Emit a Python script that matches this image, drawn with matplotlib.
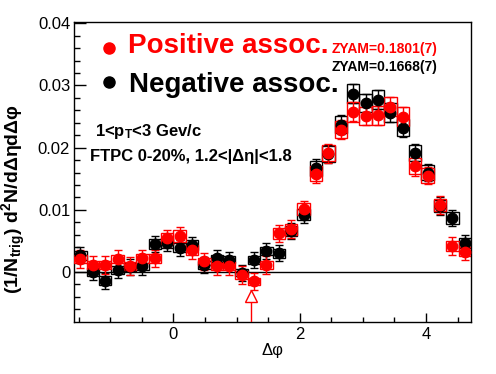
import numpy as np
import matplotlib
matplotlib.use('Agg')
import matplotlib.pyplot as plt
from matplotlib.patches import Rectangle

plt.rcParams['font.family'] = ['Liberation Sans', 'DejaVu Sans']
plt.rcParams['mathtext.fontset'] = 'custom'
plt.rcParams['mathtext.rm'] = 'Liberation Sans'
plt.rcParams['mathtext.bf'] = 'Liberation Sans:bold'
plt.rcParams['mathtext.it'] = 'Liberation Sans:italic'

# 32 bins in dphi from -pi/2 to 3pi/2
nbins = 32
edges = np.linspace(-np.pi / 2, 3 * np.pi / 2, nbins + 1)
dphi = 0.5 * (edges[:-1] + edges[1:])

# negative associated (black)
neg = [0.0027, 0.0000, -0.0014, 0.0003, 0.0008, 0.0009, 0.0045, 0.0047,
       0.0039, 0.0044, 0.0011, 0.0022, 0.0020, -0.0001, 0.0019, 0.0034,
       0.0030, 0.0066, 0.0092, 0.0167, 0.0190, 0.0237, 0.0287, 0.0272,
       0.0277, 0.0256, 0.0232, 0.0192, 0.0160, 0.0106, 0.0087, 0.0046]
neg_stat = [0.0013, 0.0013, 0.0013, 0.0013, 0.0013, 0.0013, 0.0013, 0.0013,
            0.0013, 0.0013, 0.0013, 0.0013, 0.0013, 0.0013, 0.0013, 0.0013,
            0.0013, 0.0013, 0.0013, 0.0014, 0.0014, 0.0015, 0.0015, 0.0015,
            0.0015, 0.0015, 0.0015, 0.0014, 0.0014, 0.0014, 0.0013, 0.0013]
neg_sys = [0.0007, 0.0006, 0.0007, 0.0006, 0.0006, 0.0006, 0.0008, 0.0008,
           0.0007, 0.0008, 0.0006, 0.0006, 0.0006, 0.0006, 0.0006, 0.0007,
           0.0007, 0.0008, 0.0009, 0.0012, 0.0013, 0.0014, 0.0016, 0.0015,
           0.0015, 0.0015, 0.0014, 0.0013, 0.0012, 0.0010, 0.0009, 0.0008]

# positive associated (red)
pos = [0.0021, 0.0011, 0.0011, 0.0021, 0.0010, 0.0022, 0.0022, 0.0054,
       0.0058, 0.0035, 0.0017, 0.0009, 0.0010, -0.0005, -0.0015, 0.0011,
       0.0062, 0.0069, 0.0101, 0.0158, 0.0191, 0.0229, 0.0258, 0.0251,
       0.0252, 0.0266, 0.0250, 0.0170, 0.0155, 0.0108, 0.0042, 0.0033]
pos_stat = [0.0014, 0.0014, 0.0014, 0.0014, 0.0014, 0.0014, 0.0014, 0.0014,
            0.0014, 0.0014, 0.0014, 0.0014, 0.0014, 0.0014, 0.0014, 0.0014,
            0.0014, 0.0014, 0.0014, 0.0015, 0.0015, 0.0015, 0.0015, 0.0015,
            0.0015, 0.0015, 0.0015, 0.0015, 0.0014, 0.0014, 0.0014, 0.0014]
pos_sys = [0.0007, 0.0006, 0.0006, 0.0007, 0.0006, 0.0007, 0.0007, 0.0009,
           0.0009, 0.0008, 0.0006, 0.0006, 0.0006, 0.0006, 0.0006, 0.0006,
           0.0009, 0.0009, 0.0010, 0.0012, 0.0013, 0.0014, 0.0016, 0.0015,
           0.0015, 0.0015, 0.0015, 0.0013, 0.0012, 0.0010, 0.0008, 0.0008]

zyam_pos = '0.1801(7)'
zyam_neg = '0.1668(7)'
arrow_x = 1.225

yticks = [0, 0.01, 0.02, 0.03, 0.04]
ytick_labels = ['0', '0.01', '0.02', '0.03', '0.04']
xticks = [0, 2, 4]
xtick_labels = ['0', '2', '4']

W, H = 496, 374
fig = plt.figure(figsize=(W / 100, H / 100), dpi=100)
ax = fig.add_axes([74.3 / W, 1 - 321.5 / H, (471 - 74.3) / W, (321.5 - 22) / H])


def fx(px):
    return px / W


def fy(py):
    return 1 - py / H


binw = edges[1] - edges[0]


def draw_set(y, stat, sys, col):
    for xc, v, s in zip(dphi, y, sys):
        ax.add_patch(Rectangle((xc - binw / 2, v - s), binw, 2 * s,
                               fill=False, ec=col, lw=1.0, zorder=3))
    ax.errorbar(dphi, y, yerr=stat, fmt='o', color=col, ms=7.5, mec=col,
                elinewidth=1.0, capsize=3, capthick=1.0, zorder=4)


draw_set(neg, neg_stat, neg_sys, 'black')
draw_set(pos, pos_stat, pos_sys, 'red')

ax.axhline(0, color='black', lw=1.0, zorder=2)

# open arrow marking the ZYAM position
ax.plot([arrow_x, arrow_x], [-0.008, -0.0047], color='red', lw=1.0, zorder=5)
ax.plot([arrow_x], [-0.0039], marker='^', ms=8.5, mfc='white', mec='red',
        mew=1.0, zorder=6)

ax.set_xlim(-np.pi / 2, 3 * np.pi / 2)
ax.set_ylim(-0.00795, 0.0402)
ax.set_yticks(yticks)
ax.set_yticklabels(ytick_labels)
ax.set_yticks(np.arange(-0.006, 0.0401, 0.002), minor=True)
ax.set_xticks(xticks)
ax.set_xticklabels(xtick_labels)
ax.set_xticks(np.arange(-1.5, 4.7, 0.5), minor=True)
ax.tick_params(axis='both', which='both', direction='in', top=False, right=False)
ax.tick_params(axis='y', which='major', length=8.5, width=1.0, labelsize=12, pad=3)
ax.tick_params(axis='y', which='minor', length=4.5, width=1.0)
ax.tick_params(axis='x', which='major', length=6.5, width=1.0, labelsize=12, pad=4)
ax.tick_params(axis='x', which='minor', length=3.4, width=1.0)
for sp in ax.spines.values():
    sp.set_linewidth(1.0)

# legend
fig.add_artist(plt.Line2D([fx(109)], [fy(48)], marker='o', ms=8, color='red',
                          transform=fig.transFigure))
fig.add_artist(plt.Line2D([fx(109)], [fy(82)], marker='o', ms=8, color='black',
                          transform=fig.transFigure))
fig.text(fx(128), fy(53), 'Positive assoc.', color='red', fontsize=20,
         fontweight='bold', va='baseline')
fig.text(fx(129), fy(92), 'Negative assoc.', color='black', fontsize=20,
         fontweight='bold', va='baseline')
fig.text(fx(332), fy(53), 'ZYAM=' + zyam_pos, color='red', fontsize=10,
         fontweight='bold', va='baseline')
fig.text(fx(332), fy(71), 'ZYAM=' + zyam_neg, color='black', fontsize=10,
         fontweight='bold', va='baseline')

fig.text(fx(95), fy(136), r'1<p$_{\mathbf{T}}$<3 Gev/c', fontsize=12,
         fontweight='bold', va='baseline')
fig.text(fx(90), fy(161), 'FTPC 0-20%, 1.2<|Δη|<1.8', fontsize=12,
         fontweight='bold', va='baseline')

fig.text(fx(14), fy(199), r'(1/N$_{\mathbf{trig}}$) d$^{\mathbf{2}}$N/dΔηdΔφ',
         fontsize=14, fontweight='bold', rotation=90, ha='center', va='center')
fig.text(fx(272.5), fy(351), 'Δφ', fontsize=12, ha='center', va='center')

fig.savefig('out.png', dpi=100)
